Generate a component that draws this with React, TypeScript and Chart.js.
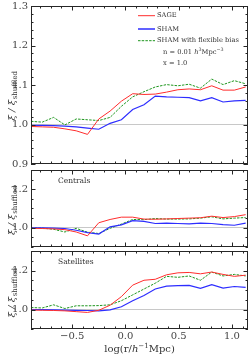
import React, { useEffect, useRef } from 'react';
import { Chart, registerables } from 'chart.js';
Chart.register(...registerables);

// log(r / h^-1 Mpc) bin centres
const logR = [-0.886, -0.780, -0.674, -0.568, -0.462, -0.356, -0.250, -0.144, -0.038, 0.068,
  0.174, 0.280, 0.386, 0.492, 0.598, 0.704, 0.810, 0.916, 1.022, 1.128];

// All galaxies
const sageAll = [0.995, 0.994, 0.993, 0.989, 0.984, 0.975, 1.014, 1.034, 1.059, 1.078,
  1.076, 1.077, 1.082, 1.088, 1.090, 1.088, 1.098, 1.087, 1.087, 1.095];
const shamAll = [0.998, 0.998, 0.997, 0.996, 0.994, 0.991, 0.988, 1.003, 1.012, 1.038,
  1.050, 1.072, 1.070, 1.069, 1.068, 1.060, 1.068, 1.057, 1.060, 1.061];
const flexAll = [1.008, 1.006, 1.018, 0.999, 1.014, 1.012, 1.010, 1.018, 1.046, 1.070,
  1.083, 1.095, 1.101, 1.098, 1.102, 1.092, 1.115, 1.101, 1.111, 1.103];

// Centrals
const sageCen = [0.997, 0.996, 0.994, 0.990, 0.978, 0.958, 1.026, 1.043, 1.055, 1.055,
  1.045, 1.044, 1.046, 1.048, 1.050, 1.052, 1.060, 1.053, 1.058, 1.068];
const shamCen = [1.000, 1.000, 0.998, 0.996, 0.987, 0.975, 0.967, 1.005, 1.015, 1.037,
  1.033, 1.022, 1.024, 1.022, 1.020, 1.024, 1.022, 1.016, 1.013, 1.024];
const flexCen = [1.000, 0.998, 0.992, 0.978, 0.997, 0.977, 0.970, 0.997, 1.019, 1.043,
  1.042, 1.048, 1.045, 1.045, 1.046, 1.050, 1.057, 1.046, 1.050, 1.053];

// Satellites
const sageSat = [0.997, 0.996, 0.995, 0.993, 0.989, 0.985, 0.996, 1.022, 1.066, 1.125,
  1.150, 1.155, 1.178, 1.188, 1.190, 1.183, 1.192, 1.180, 1.170, 1.176];
const shamSat = [1.000, 0.999, 0.998, 0.997, 0.996, 0.995, 0.993, 0.998, 1.014, 1.045,
  1.072, 1.105, 1.120, 1.122, 1.124, 1.108, 1.127, 1.110, 1.118, 1.113];
const flexSat = [1.010, 1.008, 1.024, 1.005, 1.019, 1.019, 1.020, 1.024, 1.045, 1.075,
  1.105, 1.135, 1.170, 1.165, 1.172, 1.150, 1.192, 1.172, 1.180, 1.172];

const seriesNames = ['SAGE', 'SHAM', 'SHAM with flexible bias'];
const xTicks = [-0.8, -0.7, -0.6, -0.5, -0.4, -0.3, -0.2, -0.1, 0.0, 0.1, 0.2, 0.3, 0.4, 0.5, 0.6, 0.7, 0.8, 0.9, 1.0, 1.1];
const xMajor = [-0.5, 0.0, 0.5, 1.0];
const xMin = -0.886;
const xMax = 1.15;

const RED = 'rgb(255,45,45)';
const BLUE = 'rgb(45,45,255)';
const GREEN = 'rgb(30,150,30)';
const SERIF = '"DejaVu Serif", serif';

type PanelProps = {
  top: number;
  height: number;
  padTop: number;
  padBottom: number;
  sage: number[];
  sham: number[];
  flex: number[];
  yStep: number;
  yMajor: number[];
  showX: boolean;
  label?: string;
  legend?: boolean;
  titleShift: number;
};

function Panel(p: PanelProps) {
  const ref = useRef<HTMLCanvasElement>(null);
  useEffect(() => {
    const canvas = ref.current!;
    const mk = (arr: number[]) => arr.map((v, i) => ({ x: logR[i], y: v }));
    const near = (v: number, list: number[]) => list.some((m) => Math.abs(m - v) < 1e-6);

    const decor = {
      id: 'decor',
      afterDatasetsDraw(chart: any) {
        const { ctx, chartArea: a, scales } = chart;
        const xs = scales.x;
        const ys = scales.y;
        ctx.save();
        ctx.strokeStyle = '#262626';
        ctx.lineWidth = 1;
        ctx.setLineDash([]);
        ctx.strokeRect(a.left + 0.5, a.top + 0.5, a.right - a.left - 1, a.bottom - a.top - 1);
        ctx.beginPath();
        for (const v of xTicks) {
          const px = Math.round(xs.getPixelForValue(v)) + 0.5;
          const len = near(v, xMajor) ? 4.5 : 2.5;
          ctx.moveTo(px, a.bottom);
          ctx.lineTo(px, a.bottom - len);
          ctx.moveTo(px, a.top);
          ctx.lineTo(px, a.top + len);
        }
        for (const t of ys.ticks) {
          const v = t.value;
          const py = Math.round(ys.getPixelForValue(v)) + 0.5;
          const len = near(v, p.yMajor) ? 4.5 : 2.5;
          ctx.moveTo(a.left, py);
          ctx.lineTo(a.left + len, py);
          ctx.moveTo(a.right, py);
          ctx.lineTo(a.right - len, py);
        }
        ctx.stroke();

        // y axis title: xi / xi_shuffled
        const cy = (a.top + a.bottom) / 2 + p.titleShift;
        ctx.fillStyle = '#333';
        ctx.translate(12, cy);
        ctx.rotate(-Math.PI / 2);
        ctx.font = 'italic 10px ' + SERIF;
        const main = 'ξ / ξ';
        const wMain = ctx.measureText(main).width;
        ctx.font = '7px ' + SERIF;
        const sub = 'shuffled';
        const wSub = ctx.measureText(sub).width;
        const start = -(wMain + wSub) / 2;
        ctx.textBaseline = 'middle';
        ctx.textAlign = 'left';
        ctx.font = 'italic 10px ' + SERIF;
        ctx.fillText(main, start, 0);
        ctx.font = '7px ' + SERIF;
        ctx.fillText(sub, start + wMain + 0.5, 3);
        ctx.setTransform(1, 0, 0, 1, 0, 0);

        ctx.fillStyle = '#333';
        ctx.textBaseline = 'middle';
        ctx.textAlign = 'left';
        if (p.label) {
          ctx.font = '7.5px ' + SERIF;
          ctx.fillText(p.label, 58, a.top + 11);
        }
        if (p.legend) {
          ctx.font = '10px ' + SERIF;
          const wRef = ctx.measureText(seriesNames[2]).width;
          const fs = Math.min(8, (10 * 82) / wRef);
          const F = fs.toFixed(2) + 'px ' + SERIF;
          const Fi = 'italic ' + F;
          const Fs = (fs * 0.72).toFixed(2) + 'px ' + SERIF;
          const rows = [
            { c: RED, dash: [] as number[], t: seriesNames[0], y: 15.7 },
            { c: BLUE, dash: [] as number[], t: seriesNames[1], y: 29 },
            { c: GREEN, dash: [2.5, 1.2], t: seriesNames[2], y: 40.7 },
          ];
          ctx.font = F;
          for (const r of rows) {
            ctx.strokeStyle = r.c;
            ctx.lineWidth = r.c === BLUE ? 1.5 : 1;
            ctx.setLineDash(r.dash);
            ctx.beginPath();
            ctx.moveTo(138, r.y);
            ctx.lineTo(155, r.y);
            ctx.stroke();
            ctx.fillText(r.t, 157, r.y);
          }
          ctx.setLineDash([]);
          let xx = 163;
          const seg = (t: string, f: string, y: number) => {
            ctx.font = f;
            ctx.fillText(t, xx, y);
            xx += ctx.measureText(t).width;
          };
          seg('n = 0.01 ', F, 52);
          seg('h', Fi, 52);
          seg('3', Fs, 49.5);
          seg('Mpc', F, 52);
          seg('−3', Fs, 49.5);
          xx = 163;
          seg('x = 1.0', F, 63.5);
        }
        if (p.showX) {
          const cx = (a.left + a.right) / 2;
          const parts = [
            { t: 'log(r/', f: '10px ', dy: 0 },
            { t: 'h', f: 'italic 10px ', dy: 0 },
            { t: '−1', f: '7px ', dy: -3 },
            { t: 'Mpc)', f: '10px ', dy: 0 },
          ];
          let total = 0;
          for (const q of parts) {
            ctx.font = q.f + SERIF;
            total += ctx.measureText(q.t).width;
          }
          ctx.textAlign = 'left';
          let xx = cx - total / 2;
          for (const q of parts) {
            ctx.font = q.f + SERIF;
            ctx.fillText(q.t, xx, 349 - p.top + q.dy);
            xx += ctx.measureText(q.t).width;
          }
        }
        ctx.restore();
      },
    };

    const ds = (label: string, arr: number[], color: string, dash: number[], w: number) => ({
      label,
      data: mk(arr),
      borderColor: color,
      backgroundColor: color,
      borderWidth: w,
      borderDash: dash,
      pointRadius: 0,
      tension: 0,
      fill: false,
    });

    const chart = new Chart(canvas, {
      type: 'line',
      data: {
        datasets: [
          ds(seriesNames[0], p.sage, RED, [], 1),
          ds(seriesNames[1], p.sham, BLUE, [], 1.2),
          ds(seriesNames[2], p.flex, GREEN, [2.5, 1.2], 1),
        ],
      },
      options: {
        animation: false,
        responsive: false,
        maintainAspectRatio: false,
        layout: { padding: { top: p.padTop, bottom: p.padBottom, left: 0, right: 1 } },
        plugins: { legend: { display: false }, tooltip: { enabled: false } },
        scales: {
          x: {
            type: 'linear',
            min: xMin,
            max: xMax,
            display: p.showX,
            afterBuildTicks: (s: any) => {
              s.ticks = xMajor.map((v) => ({ value: v }));
            },
            afterFit: (s: any) => {
              s.height = p.showX ? 29 : 0;
              s.paddingLeft = 0;
              s.paddingRight = 0;
            },
            grid: { display: false, drawTicks: false },
            border: { display: false },
            ticks: {
              autoSkip: false,
              maxRotation: 0,
              padding: 1,
              color: '#444',
              font: { family: SERIF, size: 10 },
              callback: (v: any) => {
                const n = Number(v);
                const s = Math.abs(n).toFixed(1);
                return n < -1e-9 ? '−' + s : s;
              },
            },
          },
          y: {
            type: 'linear',
            min: 0.9,
            max: 1.3,
            afterFit: (s: any) => {
              s.width = 31;
              s.paddingTop = 0;
              s.paddingBottom = 0;
            },
            grid: {
              drawTicks: false,
              color: (c: any) => (c.tick && Math.abs(c.tick.value - 1) < 1e-6 ? '#c8c8c8' : 'rgba(0,0,0,0)'),
              lineWidth: 1,
            },
            border: { display: false },
            ticks: {
              stepSize: p.yStep,
              autoSkip: false,
              padding: 3,
              color: '#444',
              font: { family: SERIF, size: 10 },
              callback: (v: any) => {
                const n = Number(v);
                return p.yMajor.some((m) => Math.abs(m - n) < 1e-6) ? n.toFixed(1) : '';
              },
            },
          },
        },
      },
      plugins: [decor],
    } as any);
    return () => chart.destroy();
  }, []);
  return (
    <canvas
      ref={ref}
      width={249}
      height={p.height}
      style={{ position: 'absolute', left: 0, top: p.top, width: 249, height: p.height, display: 'block' }}
    />
  );
}

export default function App() {
  return (
    <div style={{ position: 'absolute', left: 0, top: 0, width: 249, height: 358, background: '#fff', overflow: 'hidden' }}>
      <Panel top={0} height={168} padTop={6} padBottom={4} sage={sageAll} sham={shamAll} flex={flexAll}
        yStep={0.02} yMajor={[0.9, 1.0, 1.1, 1.2, 1.3]} showX={false} legend titleShift={11} />
      <Panel top={168} height={81} padTop={2} padBottom={2} sage={sageCen} sham={shamCen} flex={flexCen}
        yStep={0.05} yMajor={[1.0, 1.2]} showX={false} label="Centrals" titleShift={2} />
      <Panel top={249} height={109} padTop={2} padBottom={0} sage={sageSat} sham={shamSat} flex={flexSat}
        yStep={0.05} yMajor={[1.0, 1.2]} showX={true} label="Satellites" titleShift={3} />
    </div>
  );
}
